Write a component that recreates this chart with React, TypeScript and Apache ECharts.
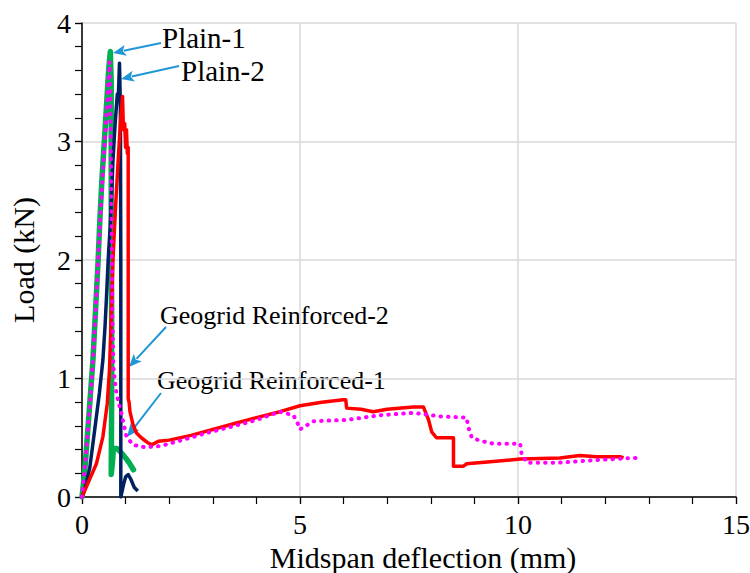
import React, { useEffect, useRef } from "react";
import * as echarts from "echarts";

// ---- Data (deflection mm, load kN) ----
const plain1: [number, number][] = [
  [0, 0], [0.03, 0.1], [0.07, 0.25], [0.12, 0.5], [0.18, 0.8], [0.25, 1.15], [0.3, 1.5],
  [0.37, 2.0], [0.41, 2.34], [0.46, 2.7], [0.52, 3.05], [0.57, 3.35], [0.61, 3.6], [0.65, 3.76],
  [0.67, 3.5], [0.67, 2.5], [0.68, 1.5], [0.68, 0.8], [0.67, 0.19], [0.7, 0.3], [0.72, 0.41],
  [0.8, 0.41], [0.91, 0.37], [1.0, 0.33], [1.08, 0.29], [1.18, 0.23],
];
const plain2: [number, number][] = [
  [0, 0], [0.05, 0.05], [0.1, 0.12], [0.18, 0.25], [0.25, 0.45], [0.32, 0.65], [0.4, 0.88],
  [0.48, 1.16], [0.53, 1.45], [0.57, 1.75], [0.6, 2.0], [0.65, 2.3], [0.71, 2.84], [0.76, 3.15],
  [0.81, 3.4], [0.83, 3.35], [0.86, 3.66], [0.88, 3.3], [0.89, 2.0], [0.89, 0.0], [0.95, 0.1],
  [1.0, 0.17], [1.06, 0.19], [1.12, 0.15], [1.2, 0.08], [1.28, 0.05],
];
const reinforced2: [number, number][] = [
  [0, 0], [0.14, 0.12], [0.33, 0.28], [0.48, 0.51], [0.58, 0.79], [0.63, 1.07], [0.67, 1.5],
  [0.71, 2.0], [0.77, 2.45], [0.83, 2.84], [0.88, 3.15], [0.93, 3.38], [0.95, 3.1], [0.98, 3.15],
  [1.0, 2.95], [1.02, 3.1], [1.04, 2.9], [1.06, 2.95], [1.06, 0.83], [1.08, 0.8], [1.1, 0.72],
  [1.17, 0.61], [1.25, 0.54], [1.36, 0.5], [1.5, 0.46], [1.6, 0.44], [1.75, 0.47], [2.0, 0.48],
  [2.5, 0.52], [3.0, 0.57], [3.5, 0.62], [4.0, 0.67], [4.54, 0.72], [5.0, 0.77], [5.5, 0.8],
  [5.99, 0.82], [6.05, 0.82], [6.07, 0.75], [6.4, 0.74], [6.68, 0.72], [7.0, 0.74], [7.6, 0.76],
  [7.83, 0.76], [7.95, 0.65], [8.02, 0.55], [8.13, 0.5], [8.52, 0.5], [8.52, 0.26], [8.75, 0.26],
  [8.82, 0.28], [9.43, 0.3], [10.05, 0.32], [10.96, 0.33], [11.42, 0.35], [11.8, 0.34],
  [12.34, 0.34], [12.42, 0.33],
];
const reinforced1: [number, number][] = [
  [0, 0], [0.04, 0.15], [0.08, 0.3], [0.13, 0.55], [0.2, 0.85], [0.25, 1.15], [0.31, 1.55],
  [0.37, 2.0], [0.42, 2.35], [0.48, 2.75], [0.53, 3.05], [0.58, 3.35], [0.63, 3.67], [0.65, 3.4],
  [0.66, 3.0], [0.68, 2.2], [0.7, 1.5], [0.72, 1.1], [0.79, 0.87], [0.9, 0.71], [1.02, 0.51],
  [1.17, 0.44], [1.44, 0.42], [1.8, 0.43], [2.2, 0.47], [2.86, 0.54], [3.5, 0.6], [4.0, 0.65],
  [4.54, 0.72], [4.85, 0.69], [4.96, 0.61], [5.0, 0.57], [5.31, 0.64], [6.07, 0.65], [6.83, 0.69],
  [7.6, 0.71], [8.21, 0.68], [8.82, 0.67], [8.86, 0.59], [8.94, 0.5], [9.13, 0.475], [9.43, 0.45],
  [10.05, 0.45], [10.08, 0.37], [10.2, 0.29], [10.96, 0.29], [11.73, 0.31], [12.65, 0.33],
  [12.84, 0.33],
];

const xTitle = "Midspan deflection (mm)";
const yTitle = "Load (kN)";

const FONT = "'Liberation Serif', 'DejaVu Serif', serif";
const ARROW = "#2196D6";

const annotations = [
  { text: "Plain-1", x: 162, y: 38, size: 29, from: [161, 43], to: [113, 53] },
  { text: "Plain-2", x: 181, y: 71, size: 29, from: [179, 66], to: [121, 79] },
  { text: "Geogrid Reinforced-2", x: 160, y: 315, size: 26, from: [166, 327], to: [129, 367] },
  { text: "Geogrid Reinforced-1", x: 157, y: 380, size: 26, from: [161, 393], to: [127, 437] },
];

function arrowGraphics() {
  const els: any[] = [];
  annotations.forEach((a) => {
    els.push({
      type: "text",
      x: a.x,
      y: a.y,
      style: { text: a.text, fontSize: a.size, fontFamily: FONT, fill: "#000", verticalAlign: "middle", align: "left" },
    });
    const [x1, y1] = a.from;
    const [x2, y2] = a.to;
    const dx = x2 - x1, dy = y2 - y1;
    const len = Math.sqrt(dx * dx + dy * dy);
    const ux = dx / len, uy = dy / len;
    const hl = 13, hw = 5.5;
    const bx = x2 - ux * hl, by = y2 - uy * hl;
    els.push({
      type: "line",
      shape: { x1, y1, x2: bx + ux * 2, y2: by + uy * 2 },
      style: { stroke: ARROW, lineWidth: 2 },
    });
    els.push({
      type: "polygon",
      shape: {
        points: [
          [x2, y2],
          [bx - uy * hw, by + ux * hw],
          [bx + ux * 3, by + uy * 3],
          [bx + uy * hw, by - ux * hw],
        ],
      },
      style: { fill: ARROW },
    });
  });
  return els;
}

export default function App() {
  const ref = useRef<HTMLDivElement>(null);
  useEffect(() => {
    if (!ref.current) return;
    const chart = echarts.init(ref.current, undefined, { renderer: "svg" });
    const mainAxis = {
      axisLine: { show: true, lineStyle: { color: "#000", width: 1.5 } },
      axisTick: { show: true, inside: false, length: 7, lineStyle: { color: "#000", width: 1.2 } },
      splitLine: { show: true, lineStyle: { color: "#D9D9D9", width: 1.5 } },
      axisLabel: { color: "#000", fontFamily: FONT, fontSize: 28 },
      nameTextStyle: { color: "#000", fontFamily: FONT, fontSize: 30 },
    };
    const tickAxis = {
      axisLine: { show: false },
      axisTick: { show: true, inside: false, length: 7, lineStyle: { color: "#000", width: 1.2 } },
      splitLine: { show: false },
      axisLabel: { show: false },
    };
    chart.setOption({
      animation: false,
      backgroundColor: "#fff",
      grid: { left: 82, right: 14, top: 23, bottom: 76, containLabel: false, outerBoundsMode: "none" },
      xAxis: [
        {
          type: "value",
          min: 0,
          max: 15,
          interval: 5,
          name: xTitle,
          nameLocation: "middle",
          nameGap: 44,
          ...mainAxis,
          nameTextStyle: { ...mainAxis.nameTextStyle, padding: [0, 0, 0, 28] },
          axisLabel: { ...mainAxis.axisLabel, margin: 13 },
        },
        { type: "value", position: "bottom", min: 0, max: 15, interval: 1, ...tickAxis },
      ],
      yAxis: [
        {
          type: "value",
          min: 0,
          max: 4,
          interval: 1,
          name: yTitle,
          nameLocation: "middle",
          nameGap: 44,
          ...mainAxis,
          axisLabel: { ...mainAxis.axisLabel, margin: 11 },
        },
        { type: "value", position: "left", min: 0, max: 4, interval: 0.2, ...tickAxis },
      ],
      series: [
        {
          name: "Plain-1",
          type: "line",
          data: plain1,
          showSymbol: false,
          lineStyle: { color: "#00B050", width: 5.5, cap: "round", join: "round" },
        },
        {
          name: "Plain-2",
          type: "line",
          data: plain2,
          showSymbol: false,
          lineStyle: { color: "#002060", width: 3.5, join: "round" },
        },
        {
          name: "Geogrid Reinforced-2",
          type: "line",
          data: reinforced2,
          showSymbol: false,
          lineStyle: { color: "#FF0000", width: 3.5, join: "round" },
        },
        {
          name: "Geogrid Reinforced-1",
          type: "line",
          data: reinforced1,
          showSymbol: false,
          lineStyle: { color: "#FF00FF", width: 4, type: [0.5, 7], cap: "round" },
        },
      ],
      graphic: arrowGraphics(),
    });
    return () => chart.dispose();
  }, []);
  return <div ref={ref} style={{ position: "fixed", left: 0, top: 0, width: 750, height: 573 }} />;
}
